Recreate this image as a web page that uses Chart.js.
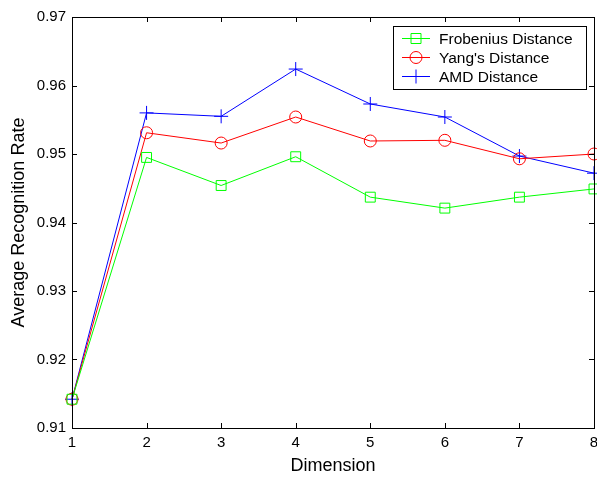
<!DOCTYPE html>
<html>
<head>
<meta charset="utf-8">
<script src="https://cdn.jsdelivr.net/npm/chart.js@4/dist/chart.umd.min.js"></script>
<style>
  html, body { margin: 0; padding: 0; background: #fff; }
  #wrap { width: 597px; height: 477px; }
</style>
</head>
<body>
<div id="wrap"><canvas id="myChart" width="597" height="477"></canvas></div>
<script>
// values
const dims = [1, 2, 3, 4, 5, 6, 7, 8];
const frobenius = [0.9142, 0.9495, 0.9454, 0.9496, 0.9437, 0.9421, 0.9437, 0.9449];
const yangs     = [0.9142, 0.9531, 0.9516, 0.9554, 0.9519, 0.9520, 0.9493, 0.9500];
const amd       = [0.9142, 0.9560, 0.9555, 0.9624, 0.9573, 0.9554, 0.9497, 0.9472];
const yTicks = [0.91, 0.92, 0.93, 0.94, 0.95, 0.96, 0.97];

const font = "'Liberation Sans', Arial, sans-serif";

function pts(vals)
{
    return dims.map((d, i) => ({ x: d, y: vals[i] }));
}

// matlab style box with inward ticks
const boxTicks =
{
    id: 'boxTicks',
    afterDraw(chart)
    {
        const ctx = chart.ctx;
        const a = chart.chartArea;
        const xs = chart.scales.x, ys = chart.scales.y;
        ctx.save();
        ctx.strokeStyle = '#000';
        ctx.lineWidth = 1;
        ctx.strokeRect(Math.round(a.left) + 0.5, Math.round(a.top) + 0.5,
                       Math.round(a.right - a.left), Math.round(a.bottom - a.top));
        ctx.beginPath();
        dims.forEach(d => {
            const px = Math.round(xs.getPixelForValue(d)) + 0.5;
            ctx.moveTo(px, a.bottom); ctx.lineTo(px, a.bottom - 5);
            ctx.moveTo(px, a.top); ctx.lineTo(px, a.top + 5);
        });
        yTicks.forEach(v => {
            const py = Math.round(ys.getPixelForValue(v)) + 0.5;
            ctx.moveTo(a.left, py); ctx.lineTo(a.left + 5, py);
            ctx.moveTo(a.right, py); ctx.lineTo(a.right - 5, py);
        });
        ctx.stroke();
        ctx.restore();
    }
};

// legend box inside the plot, top right
const boxLegend =
{
    id: 'boxLegend',
    afterDraw(chart)
    {
        const ctx = chart.ctx;
        const a = chart.chartArea;
        const w = 193, h = 63;
        const x0 = a.right - 8 - w, y0 = a.top + 9;
        ctx.save();
        ctx.fillStyle = '#fff';
        ctx.fillRect(x0, y0, w, h);
        ctx.strokeStyle = '#000';
        ctx.lineWidth = 1;
        ctx.strokeRect(Math.round(x0) + 0.5, Math.round(y0) + 0.5, w, h);
        ctx.font = '15.5px ' + font;
        ctx.textBaseline = 'middle';
        chart.data.datasets.forEach((ds, i) => {
            const cy = Math.round(y0 + 12 + i * 19) + 0.5;
            const lx = x0 + 9, rx = x0 + 37, mx = (lx + rx) / 2;
            ctx.strokeStyle = ds.borderColor;
            ctx.beginPath();
            ctx.moveTo(lx, cy); ctx.lineTo(rx, cy);
            ctx.stroke();
            ctx.beginPath();
            if (ds.pointStyle === 'rect')
            {
                ctx.rect(mx - 5, cy - 5, 10, 10);
            }
            else if (ds.pointStyle === 'circle')
            {
                ctx.arc(mx, cy, 6, 0, Math.PI * 2);
            }
            else
            {
                ctx.moveTo(mx - 7, cy); ctx.lineTo(mx + 7, cy);
                ctx.moveTo(mx, cy - 7); ctx.lineTo(mx, cy + 7);
            }
            ctx.stroke();
            ctx.fillStyle = '#000';
            ctx.fillText(ds.label, x0 + 46, cy + 1);
        });
        ctx.restore();
    }
};

const graphicData =
{
    datasets:
    [
        {
            label: 'Frobenius Distance',
            data: pts(frobenius),
            borderColor: '#00ff00',
            backgroundColor: 'rgba(0,0,0,0)',
            pointStyle: 'rect',
            pointRadius: 7,
        },
        {
            label: "Yang's Distance",
            data: pts(yangs),
            borderColor: '#ff0000',
            backgroundColor: 'rgba(0,0,0,0)',
            pointStyle: 'circle',
            pointRadius: 6,
        },
        {
            label: 'AMD Distance',
            data: pts(amd),
            borderColor: '#0000ff',
            backgroundColor: 'rgba(0,0,0,0)',
            pointStyle: 'cross',
            pointRadius: 7,
        },
    ]
};

const config =
{
    type: 'line',
    data: graphicData,
    options:
    {
        responsive: false,
        animation: false,
        clip: false,
        layout: { autoPadding: false, padding: { left: 0, top: 17, right: 3, bottom: 0 } },
        elements:
        {
            line: { borderWidth: 1, tension: 0 },
            point: { borderWidth: 1, hoverRadius: 7 }
        },
        plugins:
        {
            legend: { display: false },
            tooltip: { enabled: false }
        },
        scales:
        {
            x:
            {
                type: 'linear',
                min: 1,
                max: 8,
                afterFit(s) { s.height = 49; s.paddingLeft = 0; s.paddingRight = 0; },
                grid: { display: false, drawTicks: false },
                border: { display: false },
                ticks:
                {
                    stepSize: 1,
                    padding: 6,
                    color: '#000',
                    font: { family: font, size: 15 }
                },
                title:
                {
                    display: true,
                    text: 'Dimension',
                    color: '#000',
                    padding: { top: 0, bottom: 0 },
                    font: { family: font, size: 18 }
                }
            },
            y:
            {
                min: 0.91,
                max: 0.97,
                afterFit(s) { s.width = 72; s.paddingTop = 0; s.paddingBottom = 0; },
                grid: { display: false, drawTicks: false },
                border: { display: false },
                ticks:
                {
                    stepSize: 0.01,
                    padding: 6,
                    color: '#000',
                    font: { family: font, size: 15 },
                    callback: v => v.toFixed(2)
                },
                title:
                {
                    display: true,
                    text: 'Average Recognition Rate',
                    color: '#000',
                    padding: { top: 8, bottom: 0 },
                    font: { family: font, size: 18 }
                }
            }
        }
    },
    plugins: [boxTicks, boxLegend]
};

new Chart(document.getElementById('myChart'), config);
</script>
</body>
</html>
